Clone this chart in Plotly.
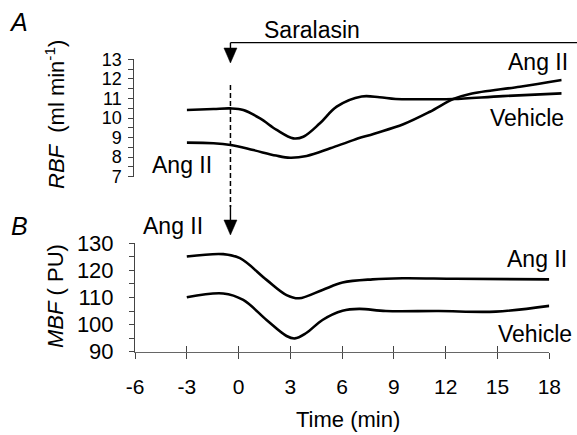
import plotly.graph_objects as go

# ---------------- data ----------------
# Panel A (RBF, ml/min) -- time in minutes
rbf_a_time = [-3.0, -1.5, -0.54, 0.17, 1.11, 2.04, 2.97, 3.53, 4.46, 5.4, 6.8, 7.8, 8.7, 10.5, 11.93, 14.7, 18.0]
rbf_a_vals = [10.41, 10.46, 10.49, 10.41, 9.98, 9.39, 8.96, 9.04, 9.73, 10.58, 11.1, 11.06, 10.97, 10.96, 10.97, 11.12, 11.26]
rbf_b_time = [-3.0, -1.5, -0.54, 0.73, 2.0, 2.79, 3.72, 5.04, 6.33, 7.5, 9.13, 10.62, 11.93, 12.86, 15.66, 18.0]
rbf_b_vals = [8.74, 8.71, 8.62, 8.36, 8.08, 7.97, 8.06, 8.45, 8.87, 9.2, 9.68, 10.32, 10.97, 11.23, 11.6, 11.94]

# Panel B (MBF, PU)
mbf_ang_time = [-3.0, -0.89, 0.08, 1.62, 2.78, 3.5, 4.86, 6.02, 7.76, 9.5, 12.6, 18.0]
mbf_ang_vals = [125.1, 126.0, 124.5, 116.5, 110.9, 109.7, 112.8, 115.5, 116.7, 117.1, 116.9, 116.7]
mbf_veh_time = [-3.0, -0.89, 0.27, 1.62, 2.78, 3.26, 3.9, 4.86, 6.02, 6.99, 8.53, 11.6, 14.9, 18.0]
mbf_veh_vals = [110.1, 111.5, 109.1, 101.7, 95.8, 94.9, 96.8, 101.7, 105.1, 105.8, 105.0, 105.0, 104.8, 106.9]

injection_time = -0.55
x_ticks = [-6, -3, 0, 3, 6, 9, 12, 15, 18]
x_tick_labels = ["-6", "-3", "0", "3", "6", "9", "12", "15", "18"]

# ---------------- layout geometry ----------------
W, H = 577, 435
TOP_X_DOMAIN = [186.7 / W, 561.7 / W]
TOP_X_RANGE = [-3, 18]
TOP_Y_DOMAIN = [1 - 176.7 / H, 1 - 59.3 / H]
BOT_X_DOMAIN = [135 / W, 549.3 / W]
BOT_Y_DOMAIN = [1 - 351.7 / H, 1 - 243.3 / H]


def px(x):
    return x / W


def py(y):
    return 1 - y / H


def top_to_paper(t):
    d0, d1 = TOP_X_DOMAIN
    r0, r1 = TOP_X_RANGE
    return d0 + (t - r0) / (r1 - r0) * (d1 - d0)


FONT = "Liberation Sans, Arial, Helvetica, sans-serif"
line_style = dict(color="black", width=2.6, shape="spline", smoothing=1.0)

fig = go.Figure()
fig.add_trace(go.Scatter(x=rbf_a_time, y=rbf_a_vals, mode="lines", line=line_style,
                         xaxis="x", yaxis="y", showlegend=False, hoverinfo="skip"))
fig.add_trace(go.Scatter(x=rbf_b_time, y=rbf_b_vals, mode="lines", line=line_style,
                         xaxis="x", yaxis="y", showlegend=False, hoverinfo="skip"))
fig.add_trace(go.Scatter(x=mbf_ang_time, y=mbf_ang_vals, mode="lines", line=line_style,
                         xaxis="x2", yaxis="y2", showlegend=False, hoverinfo="skip"))
fig.add_trace(go.Scatter(x=mbf_veh_time, y=mbf_veh_vals, mode="lines", line=line_style,
                         xaxis="x2", yaxis="y2", showlegend=False, hoverinfo="skip"))
# empty trace to activate the overlay axis carrying the inner half of the x ticks
fig.add_trace(go.Scatter(x=[], y=[], xaxis="x3", yaxis="y2", showlegend=False, hoverinfo="skip"))

axis_col = "#444444"
fig.update_layout(
    width=W, height=H,
    margin=dict(l=0, r=0, t=0, b=0, pad=0, autoexpand=False),
    paper_bgcolor="white", plot_bgcolor="rgba(0,0,0,0)",
    font=dict(family=FONT, color="black"),
    xaxis=dict(domain=TOP_X_DOMAIN, range=TOP_X_RANGE, visible=False, anchor="y", automargin=False),
    yaxis=dict(domain=TOP_Y_DOMAIN, range=[7, 13], anchor="free", position=133.3 / W, automargin=False,
               showline=True, linecolor=axis_col, linewidth=1, showgrid=False, zeroline=False,
               ticks="outside", ticklen=5, tickcolor=axis_col, dtick=1, tick0=7,
               minor=dict(dtick=0.5, ticks="outside", ticklen=5, tickcolor=axis_col),
               tickfont=dict(size=18), ticklabelstandoff=3),
    xaxis2=dict(domain=BOT_X_DOMAIN, range=[-6, 18], anchor="y2", automargin=False,
                tickvals=x_ticks, ticktext=x_tick_labels,
                showline=True, linecolor="#666666", linewidth=1, showgrid=False, zeroline=False,
                ticks="outside", ticklen=6, tickcolor=axis_col,
                tickfont=dict(size=21), ticklabelstandoff=10),
    xaxis3=dict(domain=BOT_X_DOMAIN, range=[-6, 18], anchor="y2", overlaying="x2", automargin=False,
                tickvals=x_ticks, showticklabels=False, showline=False, showgrid=False,
                zeroline=False, ticks="inside", ticklen=6, tickcolor=axis_col),
    yaxis2=dict(domain=BOT_Y_DOMAIN, range=[90, 130], anchor="x2", automargin=False,
                showline=True, linecolor=axis_col, linewidth=1, showgrid=False, zeroline=False,
                ticks="outside", ticklen=5, tickcolor=axis_col, dtick=10, tick0=90,
                minor=dict(dtick=5, ticks="outside", ticklen=5, tickcolor=axis_col),
                tickfont=dict(size=22), ticklabelstandoff=11),
)

inj_x = top_to_paper(injection_time)

# Saralasin bar and injection markers
fig.add_shape(type="line", xref="paper", yref="paper", x0=inj_x, x1=1, y0=py(42.7), y1=py(42.7),
              line=dict(color="black", width=1.3))
fig.add_shape(type="line", xref="paper", yref="paper", x0=inj_x, x1=inj_x, y0=py(42.7), y1=py(50),
              line=dict(color="black", width=1.4))
fig.add_shape(type="line", xref="paper", yref="paper", x0=inj_x, x1=inj_x, y0=py(85), y1=py(207),
              line=dict(color="black", width=1.5, dash="5px,3px"))
fig.add_shape(type="line", xref="paper", yref="paper", x0=inj_x, x1=inj_x, y0=py(205), y1=py(222),
              line=dict(color="black", width=1.4))


def arrow_head(tip_y, half_w=6.5, length=15):
    x0 = inj_x
    dx = half_w / W
    path = (f"M {x0 - dx},{py(tip_y - length)} L {x0 + dx},{py(tip_y - length)} "
            f"L {x0},{py(tip_y)} Z")
    fig.add_shape(type="path", xref="paper", yref="paper", path=path,
                  fillcolor="black", line=dict(color="black", width=0.5))


arrow_head(63)
arrow_head(235)

# Text labels
def label(text, x, y, size=22, xanchor="center", angle=0):
    fig.add_annotation(text=text, x=px(x), y=py(y), xref="paper", yref="paper", showarrow=False,
                       xanchor=xanchor, yanchor="middle", textangle=angle,
                       font=dict(size=size, family=FONT, color="black"))

label("<i>A</i>", 18, 22, size=25)
label("<i>B</i>", 19, 226, size=25)
label("Saralasin", 262, 30, size=23, xanchor="left")
label("Ang II", 182, 165, size=23)
label("Ang II", 173, 226, size=23)
label("Ang II", 538, 62, size=23)
label("Vehicle", 527, 118, size=23)
label("Ang II", 537, 259, size=23)
label("Vehicle", 535, 334, size=23)
label("<i>RBF</i>  (ml min<sup>-1</sup>)", 55, 115, angle=-90)
label("<i>MBF</i> ( PU)", 55, 296, angle=-90)
label("Time (min)", 348, 419)

fig.write_html("out.html",
               config={"displayModeBar": False},
               post_script="document.body.style.margin='0px';document.body.style.padding='0px';")
